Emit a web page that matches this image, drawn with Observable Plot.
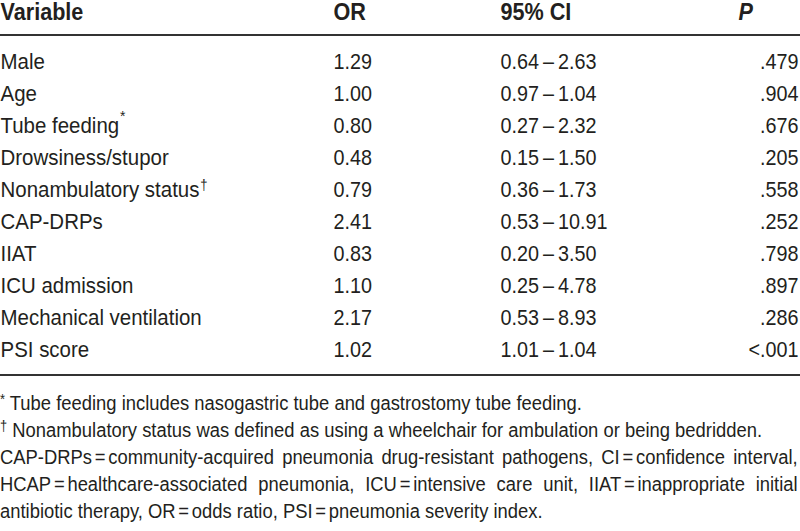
<!DOCTYPE html>
<html>
<head>
<meta charset="utf-8">
<script src="https://cdn.jsdelivr.net/npm/d3@7"></script>
<script src="https://cdn.jsdelivr.net/npm/@observablehq/plot@0.6"></script>
<style>
  html, body { margin: 0; padding: 0; background: #fff; }
  #chart { width: 800px; overflow: hidden; }
  .notes-wrap { width: 800px; height: 151px; overflow: hidden; }
  .notes { width: 867px; padding-top: 9.6px; transform: scaleX(0.92); transform-origin: 0 0;
           font-family: "Liberation Sans", Arial, sans-serif;
           font-size: 20px; line-height: 27px; color: #231f20; }
  .notes .l { white-space: nowrap; }
  .notes .j { text-align: justify; text-align-last: justify; white-space: normal; }
  .notes sup { font-size: 14px; vertical-align: 6px; line-height: 0; }
  .notes .eq { margin: 0 3px; }
</style>
</head>
<body>
<div id="chart"></div>
<script>
// ---- data ----
const headers = ["Variable", "OR", "95% CI", "P"];
const variables = ["Male", "Age", "Tube feeding", "Drowsiness/stupor", "Nonambulatory status",
  "CAP-DRPs", "IIAT", "ICU admission", "Mechanical ventilation", "PSI score"];
const superscripts = ["", "", "*", "", "\u2020", "", "", "", "", ""];
const orValues = ["1.29", "1.00", "0.80", "0.48", "0.79", "2.41", "0.83", "1.10", "2.17", "1.02"];
const ciLower = ["0.64", "0.97", "0.27", "0.15", "0.36", "0.53", "0.20", "0.25", "0.53", "1.01"];
const ciUpper = ["2.63", "1.04", "2.32", "1.50", "1.73", "10.91", "3.50", "4.78", "8.93", "1.04"];
const pValues = [".479", ".904", ".676", ".205", ".558", ".252", ".798", ".897", ".286", "<.001"];
const footnotes = [
  {mark: "*", text: "Tube feeding includes nasogastric tube and gastrostomy tube feeding."},
  {mark: "\u2020", text: "Nonambulatory status was defined as using a wheelchair for ambulation or being bedridden."}
];
const abbreviationLines = [
  "CAP-DRPs=community-acquired pneumonia drug-resistant pathogens, CI=confidence interval,",
  "HCAP=healthcare-associated pneumonia, ICU=intensive care unit, IIAT=inappropriate initial",
  "antibiotic therapy, OR=odds ratio, PSI=pneumonia severity index."
];

// ---- layout (not data) ----
const FONT = '"Liberation Sans", Arial, sans-serif';
const INK = "#231f20";
const layout = {
  colStart: {"Variable": 0, "OR": 333, "95% CI": 500, "P": 738},
  pRight: 798,
  bodySize: 22, headSize: 24,
  squeezeText: 0.93, squeezeNum: 0.9, squeezeHead: 0.9
};

const rows = variables.map((v, i) => ({
  variable: v, sup: superscripts[i], or: orValues[i],
  ci: `${ciLower[i]}\u2009\u2013\u2009${ciUpper[i]}`, p: pValues[i]
}));
const headRows = headers.map(h => ({key: h, label: h}));

const chart = Plot.plot({
  width: 800,
  height: 380,
  margin: 0,
  x: {type: "linear", domain: [0, 800], range: [0, 800], axis: null},
  y: {type: "point", domain: variables, range: [59, 351], padding: 0, axis: null},
  style: {fontFamily: FONT, color: INK, background: "#fff"},
  marks: [
    // header row
    Plot.text(headRows.filter(d => d.key !== "P"), {
      x: d => layout.colStart[d.key], frameAnchor: "top", lineAnchor: "top", dy: 2,
      text: "label", textAnchor: "start", fontSize: layout.headSize, fontWeight: "bold", fill: INK
    }),
    Plot.text(headRows.filter(d => d.key === "P"), {
      x: d => layout.colStart[d.key], frameAnchor: "top", lineAnchor: "top", dy: 2,
      text: "label", textAnchor: "start", fontSize: layout.headSize, fontWeight: "bold",
      fontStyle: "italic", fill: INK
    }),
    // rules
    Plot.ruleY([variables[0]], {dy: -26.5, stroke: "#333", strokeWidth: 2.2}),
    Plot.ruleY([variables[variables.length - 1]], {dy: 25.5, stroke: "#333", strokeWidth: 2.2}),
    // body
    Plot.text(rows, {x: () => layout.colStart["Variable"], y: "variable", text: "variable",
      textAnchor: "start", fontSize: layout.bodySize, fill: INK}),
    Plot.text(rows, {x: () => layout.colStart["OR"], y: "variable", text: "or",
      textAnchor: "start", fontSize: layout.bodySize, fill: INK}),
    Plot.text(rows, {x: () => layout.colStart["95% CI"], y: "variable", text: "ci",
      textAnchor: "start", fontSize: layout.bodySize, fill: INK}),
    Plot.text(rows, {x: () => layout.pRight, y: "variable", text: "p",
      textAnchor: "end", fontSize: layout.bodySize, fill: INK})
  ]
});

// classify texts, add superscripts, and squeeze horizontally (condensed typeface look)
d3.select(chart).selectAll("text").each(function() {
  const el = d3.select(this);
  const content = this.textContent;
  let k = layout.squeezeNum;
  const vi = variables.indexOf(content);
  if (headers.includes(content)) k = layout.squeezeHead;
  else if (vi >= 0) {
    k = layout.squeezeText;
    const s = superscripts[vi];
    if (s) {
      const star = s === "*";
      el.append("tspan").attr("dy", star ? -12 : -7).attr("dx", 1)
        .attr("font-size", star ? 15 : 14).text(s);
    }
  }
  const t = el.attr("transform") || "";
  const xv = parseFloat(el.attr("x"));
  const x = Number.isFinite(xv) ? xv : 0;
  el.attr("transform", `${t} translate(${x},0) scale(${k},1) translate(${-x},0)`.trim());
});

document.getElementById("chart").append(chart);

// footnotes below the table
const wrap = document.createElement("div");
wrap.className = "notes-wrap";
const notes = document.createElement("div");
notes.className = "notes";
const esc = s => s.replace(/&/g, "&amp;").replace(/</g, "&lt;");
let html = footnotes.map(f => `<div class="l"><sup>${f.mark}</sup> ${esc(f.text)}</div>`).join("");
html += abbreviationLines.map((t, i) => {
  const cls = i < abbreviationLines.length - 1 ? "l j" : "l";
  return `<div class="${cls}">${esc(t).replace(/=/g, '<span class="eq">=</span>')}</div>`;
}).join("");
notes.innerHTML = html;
wrap.append(notes);
document.getElementById("chart").append(wrap);
</script>
</body>
</html>
